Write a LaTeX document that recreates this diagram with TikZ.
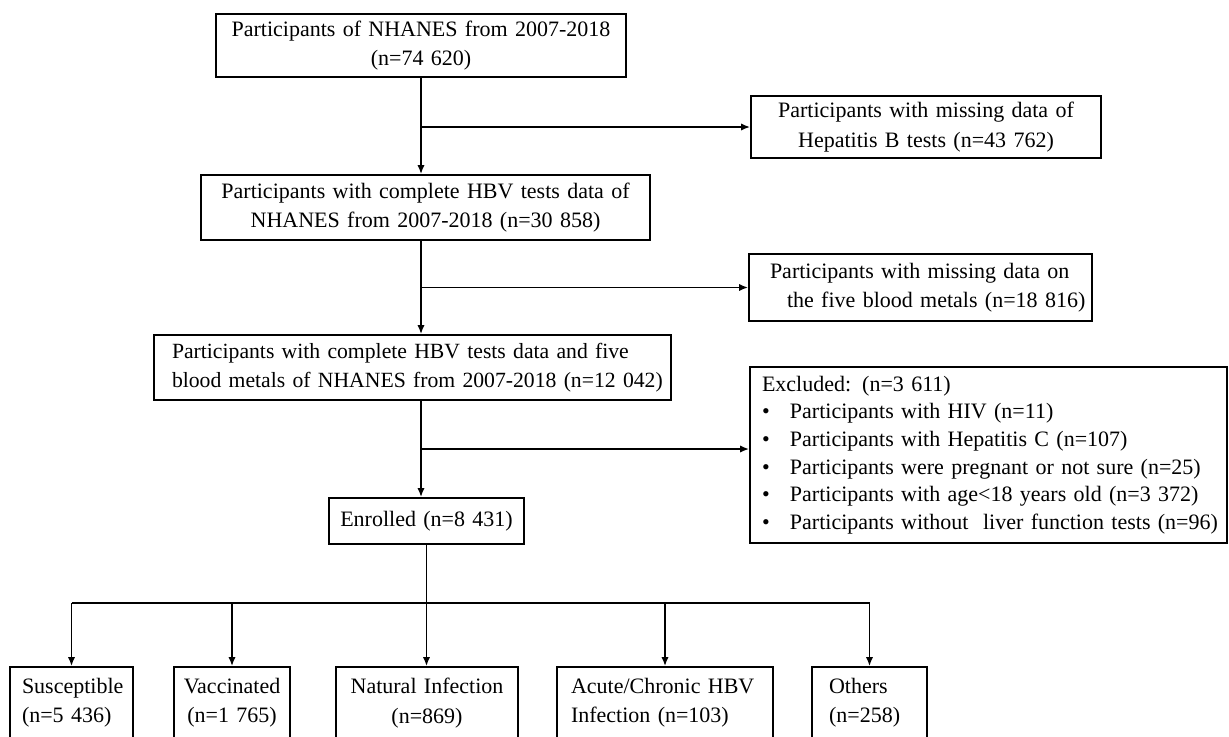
\documentclass[tikz,border=0pt]{standalone}
\usepackage{fontspec}
\setmainfont{Liberation Serif}
\usetikzlibrary{arrows.meta}
\begin{document}
\begin{tikzpicture}[x=0.5pt,y=-0.5pt,
  box/.style={draw, line width=0.8pt, inner sep=0pt, font=\fontsize{11}{14.6}\selectfont},
  cbox/.style={box, align=center},
  lbox/.style={box, align=left},
  arr/.style={line width=0.9pt, -{Latex[length=4.5pt,width=3.6pt]}},
  ln/.style={line width=0.9pt}]
\useasboundingbox (0,0) rectangle (1229,736);
% main column
\node[cbox, minimum width=205pt, minimum height=31.5pt, text width=200pt] (b1) at (421,45.5)
  {Participants of NHANES from 2007-2018\\(n=74 620)};
\node[cbox, minimum width=175pt, minimum height=31pt, text width=170pt] (b2) at (926,127)
  {Participants with missing data of\\Hepatitis B tests (n=43 762)};
\node[cbox, minimum width=224.5pt, minimum height=32.5pt, text width=220pt] (b3) at (425.5,207.5)
  {Participants with complete HBV tests data of\\NHANES from 2007-2018 (n=30 858)};
\node[lbox, minimum width=171.5pt, minimum height=33.5pt, inner xsep=10.5pt, text width=150.5pt] (b4) at (920.5,287.5)
  {\mbox{Participants with missing data on}\\\mbox{\hspace*{8.5pt}the five blood metals (n=18 816)}};
\node[lbox, minimum width=258.5pt, minimum height=32.5pt, inner xsep=9pt, text width=240.5pt,
  font=\fontsize{10.85}{14.2}\selectfont] (b5) at (412.5,367.5)
  {\mbox{Participants with complete HBV tests data and five}\\\mbox{blood metals of NHANES from 2007-2018 (n=12 042)}};
\node[lbox, minimum width=238.5pt, minimum height=88pt, inner xsep=6pt, text width=226.5pt,
  font=\fontsize{11}{13.8}\selectfont] (b6) at (988.5,455)
  {\mbox{Excluded: (n=3 611)}\\
   \mbox{\makebox[14pt][l]{\textbullet}Participants with HIV (n=11)}\\
   \mbox{\makebox[14pt][l]{\textbullet}Participants with Hepatitis C (n=107)}\\
   \mbox{\makebox[14pt][l]{\textbullet}Participants were pregnant or not sure (n=25)}\\
   \mbox{\makebox[14pt][l]{\textbullet}Participants with age<18 years old (n=3 372)}\\
   \mbox{\makebox[14pt][l]{\textbullet}Participants without~ liver function tests (n=96)}};
\node[cbox, minimum width=97.5pt, minimum height=23pt, text width=95pt] (enr) at (426.5,521)
  {Enrolled (n=8 431)};
% bottom boxes
\node[lbox, minimum width=61.5pt, minimum height=36pt, inner xsep=6pt, text width=49.5pt] (sus) at (71.5,703)
  {\mbox{Susceptible}\\\mbox{(n=5 436)}};
\node[cbox, minimum width=58pt, minimum height=36pt, text width=56pt] (vac) at (232,703)
  {Vaccinated\\(n=1 765)};
\node[cbox, minimum width=91pt, minimum height=36pt, text width=88pt] (nat) at (427,703)
  {Natural Infection\\(n=869)};
\node[lbox, minimum width=108pt, minimum height=36pt, inner xsep=7pt, text width=94pt] (acu) at (665,703)
  {\mbox{Acute/Chronic HBV}\\\mbox{Infection (n=103)}};
\node[lbox, minimum width=57.5pt, minimum height=36pt, inner xsep=8.5pt, text width=40.5pt] (oth) at (869.5,703)
  {\mbox{Others}\\\mbox{(n=258)}};
% connectors
\coordinate (c1) at (421,127);
\coordinate (c2) at (421,287.5);
\coordinate (c3) at (421,449);
\coordinate (bar) at (426.5,603);
\draw[arr] (b1.south) -- (b1.south |- b3.north);
\draw[arr] (c1) -- (c1 -| b2.west);
\draw[arr] (c1 |- b3.south) -- (c1 |- b5.north);
\draw[arr] (c2) -- (c2 -| b4.west);
\draw[arr] (c1 |- b5.south) -- (c1 |- enr.north);
\draw[arr] (c3) -- (c3 -| b6.west);
\draw[arr] (enr.south) -- (enr.south |- nat.north);
\draw[ln] (sus.north |- bar) -- (oth.north |- bar);
\draw[arr] (sus.north |- bar) -- (sus.north);
\draw[arr] (vac.north |- bar) -- (vac.north);
\draw[arr] (acu.north |- bar) -- (acu.north);
\draw[arr] (oth.north |- bar) -- (oth.north);
\end{tikzpicture}
\end{document}
